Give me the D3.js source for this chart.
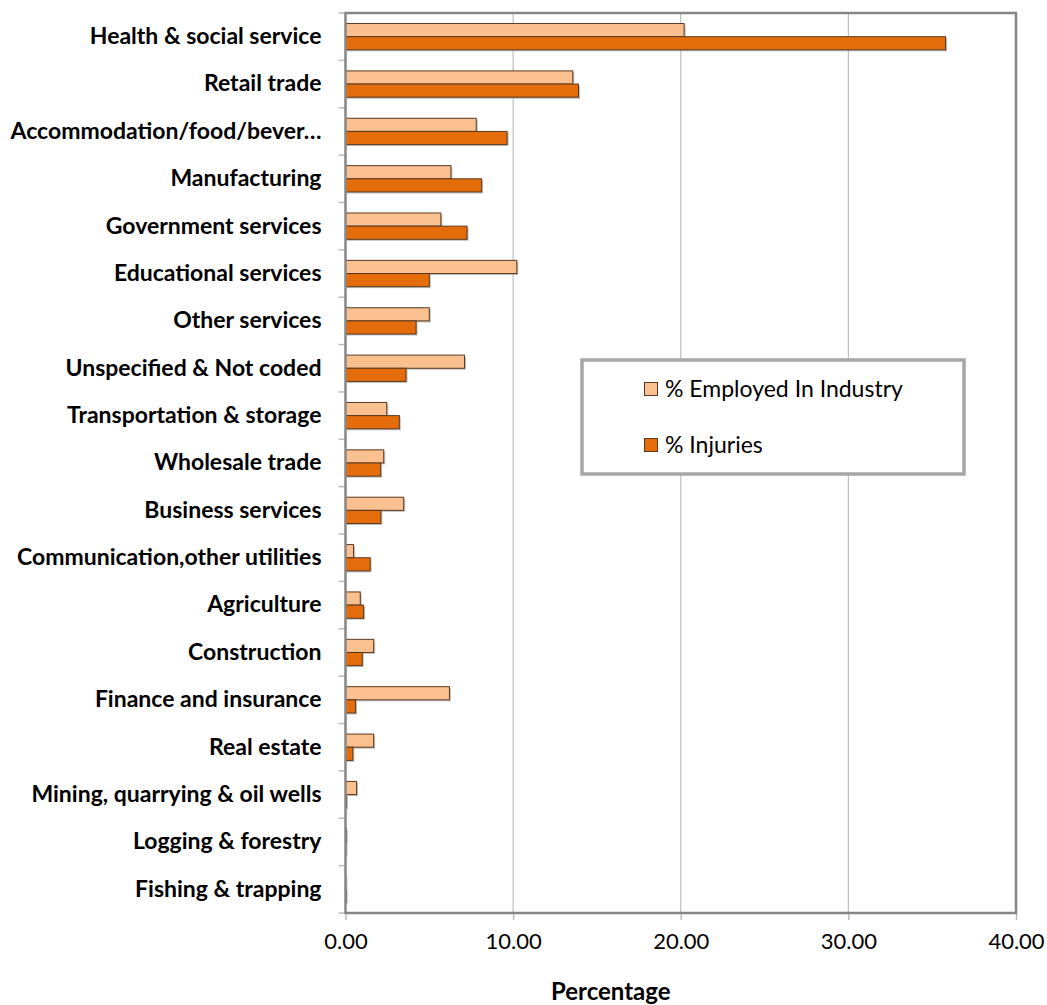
<!DOCTYPE html>
<html>
<head>
<meta charset="utf-8">
<script src="https://cdn.jsdelivr.net/npm/d3@7"></script>
<style>
  body { margin: 0; background: #fff; }
  text { font-family: Lato, "Open Sans", sans-serif; }
</style>
</head>
<body>
<svg id="viz" width="1047" height="1005"></svg>
<script>
// data
var industries = [
  'Health & social service', 'Retail trade', 'Accommodation/food/bever\u2026',
  'Manufacturing', 'Government services', 'Educational services',
  'Other services', 'Unspecified & Not coded', 'Transportation & storage',
  'Wholesale trade', 'Business services', 'Communication,other utilities',
  'Agriculture', 'Construction', 'Finance and insurance', 'Real estate',
  'Mining, quarrying & oil wells', 'Logging & forestry', 'Fishing & trapping'
];
var employed = [20.2, 13.56, 7.8, 6.29, 5.69, 10.22, 5.0, 7.1, 2.46, 2.28,
  3.47, 0.48, 0.88, 1.68, 6.2, 1.68, 0.66, 0.05, 0.02];
var injuries = [35.8, 13.9, 9.64, 8.12, 7.25, 5.0, 4.21, 3.61, 3.21, 2.1,
  2.11, 1.47, 1.08, 1.0, 0.6, 0.44, 0.06, 0.03, 0.04];
var seriesNames = ['% Employed In Industry', '% Injuries'];
var xTicks = [0, 10, 20, 30, 40];

var colors = ['#FAC090', '#E46C0A'];

var margin = { left: 345.5, top: 13, right: 31, bottom: 92 };
var width = 1047 - margin.left - margin.right;
var height = 1005 - margin.top - margin.bottom;

var svg = d3.select('#viz');
var g = svg.append('g')
  .attr('transform', 'translate(' + margin.left + ',' + margin.top + ')');

var x = d3.scaleLinear().domain([0, 40]).range([0, width]);
var y = d3.scaleBand().domain(industries).range([0, height]);
var inner = d3.scaleBand().domain([0, 1]).range([0, y.bandwidth()]).paddingOuter(0.8);

// gridlines
g.selectAll('.grid')
  .data(xTicks.slice(1))
  .enter()
  .append('line')
  .attr('x1', (d) => x(d))
  .attr('x2', (d) => x(d))
  .attr('y1', 0)
  .attr('y2', height)
  .attr('stroke', '#C0C0C0')
  .attr('stroke-width', 1.2);

// bars, one series at a time
[employed, injuries].forEach((vals, s) => {
  var rows = g.selectAll('.bar' + s)
    .data(vals)
    .enter();
  // soft shadow
  rows.append('rect')
    .attr('x', 1.5)
    .attr('y', (d, i) => y(industries[i]) + inner(s) + 1.5)
    .attr('width', (d) => x(d))
    .attr('height', inner.bandwidth())
    .attr('fill', '#9a9a9a')
    .attr('opacity', 0.6);
  rows.append('rect')
    .attr('x', 0)
    .attr('y', (d, i) => y(industries[i]) + inner(s))
    .attr('width', (d) => x(d))
    .attr('height', inner.bandwidth())
    .attr('fill', colors[s])
    .attr('stroke', '#5a3a20')
    .attr('stroke-width', 1);
});

// left axis with category labels
var yAxis = g.append('g').call(d3.axisLeft(y).tickSize(0).tickPadding(24));
yAxis.select('.domain').remove();
yAxis.selectAll('text')
  .style('font-size', '23px')
  .style('font-weight', 'bold')
  .attr('fill', '#000');

// small ticks between categories
g.selectAll('.ytick')
  .data(d3.range(industries.length + 1))
  .enter()
  .append('line')
  .attr('x1', -7)
  .attr('x2', 0)
  .attr('y1', (d) => d * y.step())
  .attr('y2', (d) => d * y.step())
  .attr('stroke', '#BDBDBD')
  .attr('stroke-width', 1.5);

// bottom axis
var xAxis = g.append('g')
  .attr('transform', 'translate(0,' + height + ')')
  .call(d3.axisBottom(x).tickValues(xTicks).tickFormat(d3.format('.2f')).tickSize(7).tickPadding(13));
xAxis.select('.domain').remove();
xAxis.selectAll('line').attr('stroke', '#BDBDBD').attr('stroke-width', 1.5);
xAxis.selectAll('text')
  .style('font-size', '22px')
  .attr('fill', '#000');

// plot frame
g.append('rect')
  .attr('x', 0)
  .attr('y', 0)
  .attr('width', width)
  .attr('height', height)
  .attr('fill', 'none')
  .attr('stroke', '#868686')
  .attr('stroke-width', 2.5);

// axis title
svg.append('text')
  .attr('x', margin.left + width / 2 - 70)
  .attr('y', 1000)
  .attr('text-anchor', 'middle')
  .style('font-size', '24px')
  .style('font-weight', 'bold')
  .text('Percentage');

// legend
var legend = svg.append('g').attr('transform', 'translate(582,360)');
legend.append('rect')
  .attr('width', 382)
  .attr('height', 114)
  .attr('fill', '#fff')
  .attr('stroke', '#A6A6A6')
  .attr('stroke-width', 3.5);

seriesNames.forEach((name, i) => {
  legend.append('rect')
    .attr('x', 62.5)
    .attr('y', 22.5 + i * 56)
    .attr('width', 13)
    .attr('height', 13)
    .attr('fill', colors[i])
    .attr('stroke', '#5a3a20')
    .attr('stroke-width', 1);
  legend.append('text')
    .attr('x', 83)
    .attr('y', 37 + i * 56)
    .style('font-size', '23px')
    .text(name);
});
</script>
</body>
</html>
